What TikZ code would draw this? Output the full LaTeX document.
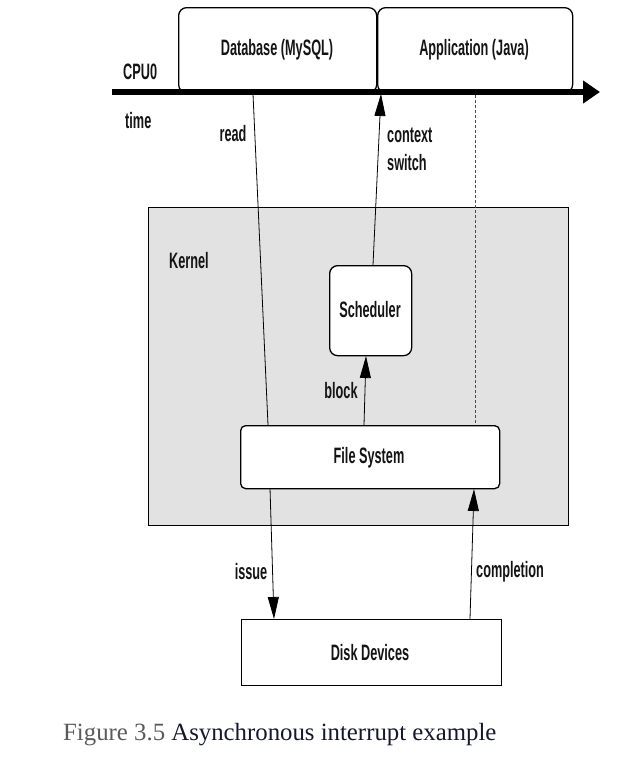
\documentclass[tikz,border=0pt]{standalone}
\usepackage{fontspec}
\setmainfont{Liberation Serif}
\newfontfamily\diafont[FakeStretch=0.57]{Liberation Sans Bold}
\usetikzlibrary{arrows.meta}
\definecolor{kernelgray}{HTML}{E2E2E2}
\definecolor{txt}{HTML}{141414}
\definecolor{capgray}{HTML}{5A5A5A}
\definecolor{capnavy}{HTML}{16162E}
\begin{document}
\begin{tikzpicture}[x=1pt,y=-1pt,
  lbl/.style={font=\diafont\fontsize{22.3}{28}\selectfont, text=txt, inner sep=0pt},
  procbox/.style={draw, line width=1.3pt, rounded corners=8pt, fill=white, inner sep=0pt},
  fsbox/.style={draw, line width=1.3pt, rounded corners=5pt, fill=white, inner sep=0pt},
  diskbox/.style={draw, line width=1.3pt, fill=white, inner sep=0pt},
  conn/.style={line width=0.8pt},
  arr/.style={line width=0.8pt, -{Triangle[length=22pt,width=11pt]}},
]
\useasboundingbox (0,0) rectangle (638,771);
% kernel
\node[draw, line width=1.3pt, fill=kernelgray, minimum width=420pt, minimum height=318pt, anchor=north west, inner sep=0pt] (kernel) at (148,207) {};
\node[lbl, anchor=west] (kernellbl) at (169,261) {Kernel};
% process boxes
\node[procbox, minimum width=198pt, minimum height=85pt, anchor=north west] (db) at (178,7) {};
\node[lbl] at (277,50) {Database (MySQL)};
\node[procbox, minimum width=195pt, minimum height=85pt, anchor=north west] (app) at (377,7) {};
\node[lbl] at (474,50) {Application (Java)};
% timeline
\coordinate (tstart) at (112,92);
\coordinate (tend) at (600,92);
\draw[line width=6pt, -{Triangle[length=17pt,width=22pt]}] (tstart) -- (tend);
\node[lbl, anchor=west] (cpu) at (123,72) {CPU0};
\node[lbl, anchor=west] (time) at (125,121) {time};
% kernel boxes
\node[procbox, minimum width=82pt, minimum height=90pt, anchor=north west] (sched) at (329,265) {};
\node[lbl] at (370,310) {Scheduler};
\node[fsbox, minimum width=259pt, minimum height=63pt, anchor=north west] (fs) at (240,425) {};
\node[lbl] at (369,458) {File System};
\node[diskbox, minimum width=260pt, minimum height=66pt, anchor=north west] (disk) at (241,619) {};
\node[lbl] at (370,653) {Disk Devices};
% coordinates on timeline / boxes
\coordinate (readtop) at (253,94);
\coordinate (readbot) at (268,425);
\coordinate (cstop) at (381,94);
\coordinate (csbot) at (373,265);
\coordinate (dashtop) at (475,95);
\coordinate (dashbot) at (475,425);
\coordinate (blkbot) at (364,425);
\coordinate (blktop) at (366,356);
\coordinate (isstop) at (270,488);
\coordinate (issbot) at (274,619);
\coordinate (cmpbot) at (470,619);
\coordinate (cmptop) at (474,489);
% connectors
\draw[conn] (readtop) -- (readbot);
\draw[arr] (csbot) -- (cstop);
\draw[conn, dash pattern=on 3pt off 2pt, color=black!70] (dashtop) -- (dashbot);
\draw[arr] (blkbot) -- (blktop);
\draw[arr] (isstop) -- (issbot);
\draw[arr] (cmpbot) -- (cmptop);
% labels
\node[lbl] (readlbl) at (233,134) {read};
\node[lbl, anchor=west] (cslbl1) at (387,135) {context};
\node[lbl, anchor=west] (cslbl2) at (387,163) {switch};
\node[lbl] (blocklbl) at (341,391) {block};
\node[lbl] (issuelbl) at (251,572) {issue};
\node[lbl, anchor=west] (cmplbl) at (476,572) {completion};
% caption
\node[anchor=base west, inner sep=0pt, font=\fontsize{24.8}{28}\selectfont] (caption) at (63,740) {\textcolor{capgray}{Figure 3.5} \textcolor{capnavy}{Asynchronous interrupt example}};
\end{tikzpicture}
\end{document}
